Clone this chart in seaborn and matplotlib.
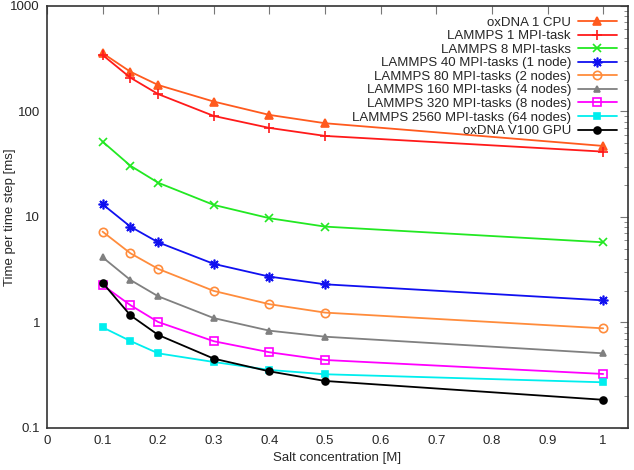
import matplotlib
matplotlib.use("Agg")
import matplotlib.pyplot as plt
import seaborn as sns
import pandas as pd

salt = [0.1, 0.15, 0.2, 0.3, 0.4, 0.5, 1.0]

oxdna_cpu = [357, 238, 178, 124, 92.7, 77.3, 47.1]
lammps_1 = [343, 209, 146, 90.6, 69.8, 58.6, 41.6]
lammps_8 = [51.8, 30.6, 21.1, 13.0, 9.73, 8.1, 5.75]
lammps_40 = [13.2, 8.1, 5.75, 3.59, 2.72, 2.30, 1.62]
lammps_80 = [7.26, 4.53, 3.22, 1.99, 1.49, 1.24, 0.88]
lammps_160 = [4.15, 2.53, 1.77, 1.10, 0.836, 0.733, 0.51]
lammps_320 = [2.26, 1.46, 1.01, 0.664, 0.522, 0.441, 0.325]
lammps_2560 = [0.90, 0.668, 0.51, 0.422, 0.355, 0.323, 0.271]
oxdna_gpu = [2.38, 1.17, 0.762, 0.454, 0.344, 0.279, 0.185]

labels = ["oxDNA 1 CPU", "LAMMPS 1 MPI-task", "LAMMPS 8 MPI-tasks",
          "LAMMPS 40 MPI-tasks (1 node)", "LAMMPS 80 MPI-tasks (2 nodes)",
          "LAMMPS 160 MPI-tasks (4 nodes)", "LAMMPS 320 MPI-tasks (8 nodes)",
          "LAMMPS 2560 MPI-tasks (64 nodes)", "oxDNA V100 GPU"]
series = [oxdna_cpu, lammps_1, lammps_8, lammps_40, lammps_80,
          lammps_160, lammps_320, lammps_2560, oxdna_gpu]

# (colour, marker, size, filled)
styles = [
    ("#ff5a1e", "^", 6, True),
    ("#ff1a1a", "+", 7, True),
    ("#22e822", "x", 6, True),
    ("#1010f0", (8, 2, 0), 7, True),
    ("#ff8c3c", "o", 6, False),
    ("#808080", "^", 4, True),
    ("#ff00ff", "s", 6, False),
    ("#00eeee", "s", 5, True),
    ("#000000", "o", 5, True),
]

sns.set_style("white")
plt.rcParams["font.family"] = ["Liberation Sans", "DejaVu Sans"]

fig = plt.figure(figsize=(6.34, 4.70), dpi=100)
ax = fig.add_axes([0.074, 0.0894, 0.916, 0.898])

for lab, vals, (col, mk, ms, filled) in zip(labels, series, styles):
    df = pd.DataFrame({"salt": salt, "time": vals})
    kw = dict(marker=mk, markersize=ms, markeredgecolor=col, markeredgewidth=1.2)
    kw["markerfacecolor"] = col if filled else "none"
    sns.lineplot(data=df, x="salt", y="time", color=col, linewidth=1.3,
                 label=lab, ax=ax, **kw)

ax.set_yscale("log")
ax.set_xlim(0, 1.044)
ax.set_ylim(0.1, 1000)
ax.set_xticks([i / 10 for i in range(11)])
ax.set_xticklabels(["0", "0.1", "0.2", "0.3", "0.4", "0.5", "0.6", "0.7", "0.8", "0.9", "1"])
ax.set_yticks([0.1, 1, 10, 100, 1000])
ax.set_yticklabels(["0.1", "1", "10", "100", "1000"])
ax.tick_params(axis="both", which="both", direction="in", top=True, right=True,
               labelsize=9.5, color="#777777", pad=5)
ax.tick_params(which="major", length=6)
ax.tick_params(which="minor", length=3)
for s in ax.spines.values():
    s.set_color("#333333")
    s.set_linewidth(1.2)

ax.set_xlabel("Salt concentration [M]", fontsize=9.5, labelpad=4)
ax.set_ylabel("Time per time step [ms]", fontsize=9.5)
ax.yaxis.set_label_coords(-0.053, 0.5)

leg = ax.legend(loc="upper right", markerfirst=False, frameon=False, fontsize=9.5,
                labelspacing=0.1, handlelength=3.0, handletextpad=0.5,
                borderaxespad=0.5, borderpad=0.3)
for t in leg.get_texts():
    t.set_ha("right")
leg._legend_box.align = "right"

fig.savefig("out.png", dpi=100)
